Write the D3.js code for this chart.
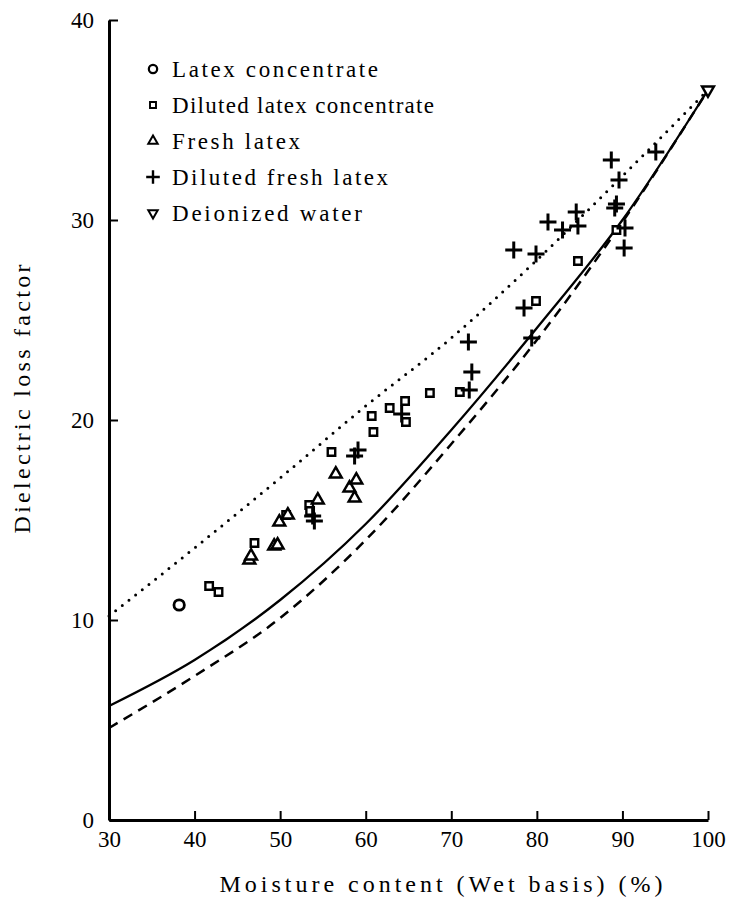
<!DOCTYPE html>
<html>
<head>
<meta charset="utf-8">
<script src="https://cdn.jsdelivr.net/npm/d3@7"></script>
<style>
  body { margin: 0; background: #fff; }
  text { font-family: "Liberation Serif", "Times New Roman", serif; fill: #000; }
</style>
</head>
<body>
<div id="chart"></div>
<script>
// moisture content (%), dielectric loss factor
const latexConcentrate = [[38.2, 10.75]];
const dilutedLatexConcentrate = [
  [41.7, 11.7], [42.8, 11.4], [47.0, 13.85], [50.7, 15.25], [53.4, 15.75], [53.5, 15.45],
  [56.0, 18.4], [60.7, 20.2], [60.9, 19.4], [62.8, 20.6], [64.6, 20.95], [64.7, 19.9],
  [67.5, 21.35], [71.0, 21.4], [79.9, 25.95], [84.8, 27.95], [89.3, 29.5]
];
const freshLatex = [
  [46.4, 13.0], [46.6, 13.2], [49.3, 13.7], [49.7, 13.75], [49.9, 14.9], [50.9, 15.25],
  [54.4, 16.0], [56.5, 17.3], [58.1, 16.6], [58.7, 16.1], [58.9, 17.0]
];
const dilutedFreshLatex = [
  [53.8, 15.2], [54.0, 14.95], [58.7, 18.2], [59.1, 18.5], [64.2, 20.3],
  [72.0, 23.9], [72.4, 22.4], [72.1, 21.5], [77.3, 28.5], [79.9, 28.3], [78.5, 25.6],
  [79.4, 24.1], [81.3, 29.9], [83.0, 29.5], [84.6, 30.4], [84.8, 29.7], [88.7, 33.0],
  [89.6, 32.0], [89.3, 30.8], [89.1, 30.6], [90.3, 29.6], [90.2, 28.6], [93.9, 33.4]
];
const deionizedWater = [[100, 36.5]];

// fitted curves
const curveDotted = [[30, 10.2], [40, 13.6], [50, 17.1], [60, 20.7], [70, 24.1], [80, 28.0], [90, 32.2], [100, 36.5]];
const curveSolid = [[30, 5.7], [40, 8.0], [50, 11.0], [60, 14.8], [70, 19.5], [80, 24.6], [90, 30.0], [100, 36.5]];
const curveDashed = [[30, 4.6], [40, 7.2], [50, 10.1], [60, 14.0], [70, 18.8], [80, 24.0], [90, 29.9], [100, 36.5]];

const xTicks = [30, 40, 50, 60, 70, 80, 90, 100];
const yTicks = [0, 10, 20, 30, 40];

const legendItems = [
  ['circle', 'Latex concentrate', 206],
  ['square', 'Diluted latex concentrate', 262],
  ['triangle', 'Fresh latex', 128],
  ['plus', 'Diluted fresh latex', 216],
  ['down', 'Deionized water', 190]
];

const width = 733;
const height = 902;

const x = d3.scaleLinear().domain([30, 100]).range([109, 708]);
const y = d3.scaleLinear().domain([0, 40]).range([820, 20]);

const svg = d3.select('#chart')
  .append('svg')
  .attr('width', width)
  .attr('height', height);

const xAxis = svg.append('g')
  .attr('transform', `translate(0, ${y(0)})`)
  .call(d3.axisBottom(x).tickValues(xTicks).tickSize(-9).tickSizeOuter(0).tickPadding(11));

const yAxis = svg.append('g')
  .attr('transform', `translate(${x(30)}, 0)`)
  .call(d3.axisLeft(y).tickValues(yTicks).tickSize(-9).tickSizeOuter(0).tickPadding(15));

[xAxis, yAxis].forEach(g => {
  g.select('.domain').attr('stroke', '#000').attr('stroke-width', 3);
  g.selectAll('.tick line').attr('stroke', '#000').attr('stroke-width', 2);
  g.selectAll('.tick text')
    .style('font-family', '"Liberation Serif", "Times New Roman", serif')
    .style('font-size', '23px')
    .attr('fill', '#000');
});

const line = d3.line().x(d => x(d[0])).y(d => y(d[1])).curve(d3.curveMonotoneX);

svg.append('path').datum(curveDotted)
  .attr('d', line).attr('fill', 'none').attr('stroke', '#000')
  .attr('stroke-width', 3).attr('stroke-linecap', 'round').attr('stroke-dasharray', '0 8.5');

svg.append('path').datum(curveSolid)
  .attr('d', line).attr('fill', 'none').attr('stroke', '#000').attr('stroke-width', 2.3);

svg.append('path').datum(curveDashed)
  .attr('d', line).attr('fill', 'none').attr('stroke', '#000')
  .attr('stroke-width', 2.5).attr('stroke-dasharray', '10 7');

// marker drawing
function drawMarker(g, type, s) {
  if (type === 'circle') {
    g.append('circle').attr('r', 5.2 * s).attr('fill', '#fff').attr('stroke', '#000').attr('stroke-width', 2.8 * s);
  } else if (type === 'square') {
    g.append('path').attr('d', d3.symbol(d3.symbolSquare, 56 * s * s)())
      .attr('fill', '#fff').attr('stroke', '#000').attr('stroke-width', 2.4 * s);
  } else if (type === 'triangle') {
    g.append('path').attr('d', d3.symbol(d3.symbolTriangle, 60 * s * s)())
      .attr('fill', '#fff').attr('stroke', '#000').attr('stroke-width', 2.5 * s);
  } else if (type === 'down') {
    g.append('path').attr('d', d3.symbol(d3.symbolTriangle, 60 * s * s)())
      .attr('transform', 'rotate(180)')
      .attr('fill', '#fff').attr('stroke', '#000').attr('stroke-width', 2.5 * s);
  } else if (type === 'plus') {
    const a = 8.5 * s;
    g.append('path').attr('d', `M${-a},0H${a}M0,${-a}V${a}`)
      .attr('stroke', '#000').attr('stroke-width', 3 * s).attr('fill', 'none');
  }
}

const series = [
  ['square', dilutedLatexConcentrate],
  ['triangle', freshLatex],
  ['circle', latexConcentrate],
  ['plus', dilutedFreshLatex],
  ['down', deionizedWater]
];

series.forEach(([type, data]) => {
  svg.append('g').selectAll('g')
    .data(data)
    .enter()
    .append('g')
    .attr('transform', d => `translate(${x(d[0])}, ${y(d[1])})`)
    .each(function() { drawMarker(d3.select(this), type, 1); });
});

// legend
const legend = svg.append('g').attr('transform', 'translate(153, 69)');
legendItems.forEach(([type, label, len], i) => {
  const row = legend.append('g').attr('transform', `translate(0, ${i * 36})`);
  drawMarker(row, type, 0.8);
  row.append('text')
    .attr('x', 19)
    .attr('y', 7.5)
    .attr('textLength', len)
    .attr('lengthAdjust', 'spacing')
    .style('font-size', '23px')
    .text(label);
});

// axis titles
svg.append('text')
  .attr('x', 441)
  .attr('y', 892)
  .attr('text-anchor', 'middle')
  .attr('textLength', 443)
  .attr('lengthAdjust', 'spacing')
  .style('font-size', '24px')
  .text('Moisture content (Wet basis) (%)');

svg.append('text')
  .attr('transform', 'translate(30, 399) rotate(-90)')
  .attr('text-anchor', 'middle')
  .attr('textLength', 269)
  .attr('lengthAdjust', 'spacing')
  .style('font-size', '24px')
  .text('Dielectric loss factor');
</script>
</body>
</html>
